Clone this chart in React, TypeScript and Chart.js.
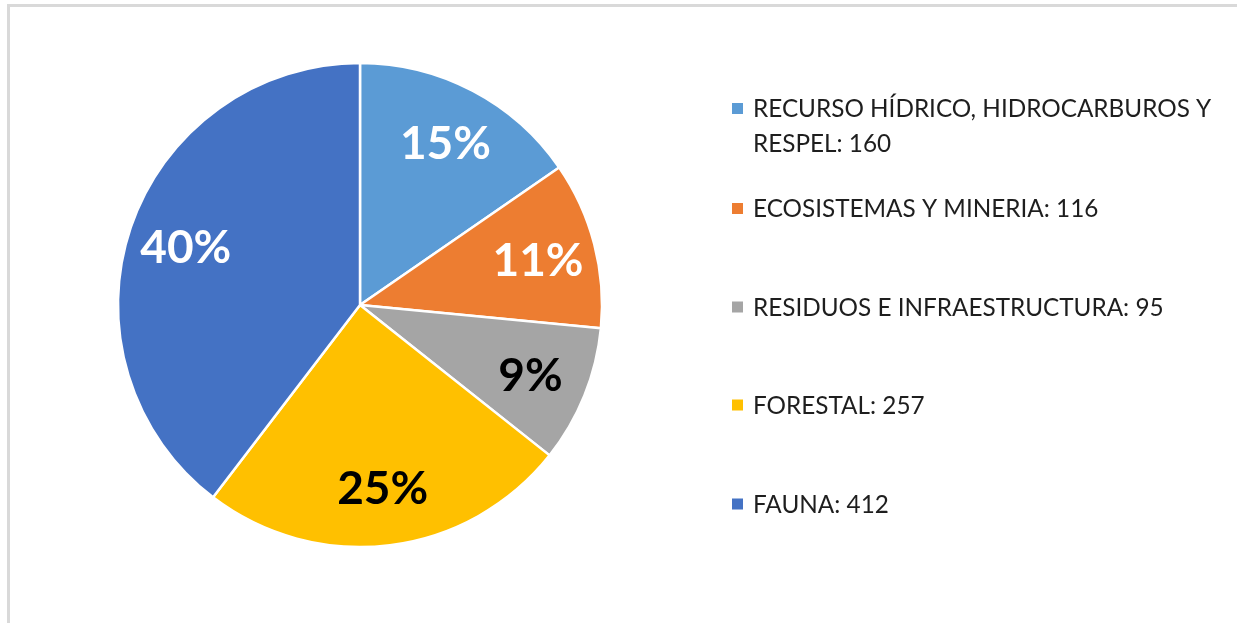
import React, { useEffect, useRef } from "react";
import { Chart, registerables } from "chart.js";

Chart.register(...registerables);

const categories = [
  "RECURSO HÍDRICO, HIDROCARBUROS Y RESPEL",
  "ECOSISTEMAS Y MINERIA",
  "RESIDUOS E INFRAESTRUCTURA",
  "FORESTAL",
  "FAUNA",
];
const values = [160, 116, 95, 257, 412];
const sliceColors = ["#5B9BD5", "#ED7D31", "#A5A5A5", "#FFC000", "#4472C4"];
const pctLabelColors = ["#FFFFFF", "#FFFFFF", "#000000", "#000000", "#FFFFFF"];

const FONT = "Lato, 'Open Sans', sans-serif";
const LEGEND_X = 732;
const LEGEND_MARK = 11;
const LEGEND_TEXT_X = 753;
const LEGEND_CENTERS = [108.5, 208.5, 307, 405, 504];
const LEGEND_LINE_H = 35;
const LEGEND_FONT_SIZE = 24.3;
const LEGEND_MAX_W = 480;

const wrap = (ctx: CanvasRenderingContext2D, text: string, maxW: number) => {
  const words = text.split(" ");
  const lines: string[] = [];
  let cur = "";
  for (const w of words) {
    const t = cur ? cur + " " + w : w;
    if (ctx.measureText(t).width > maxW && cur) {
      lines.push(cur);
      cur = w;
    } else cur = t;
  }
  if (cur) lines.push(cur);
  return lines;
};

const customPlugin = {
  id: "customLabels",
  afterDatasetsDraw(chart: any) {
    const ctx: CanvasRenderingContext2D = chart.ctx;
    const meta = chart.getDatasetMeta(0);
    const data = chart.data.datasets[0].data as number[];
    const total = data.reduce((a, b) => a + b, 0);
    ctx.save();
    ctx.font = `bold 46px ${FONT}`;
    ctx.textAlign = "center";
    ctx.textBaseline = "middle";
    meta.data.forEach((arc: any, i: number) => {
      const { x, y, startAngle, endAngle, outerRadius } = arc.getProps(
        ["x", "y", "startAngle", "endAngle", "outerRadius"],
        true
      );
      const mid = (startAngle + endAngle) / 2;
      const r = outerRadius * 0.76;
      const pct = Math.round((data[i] / total) * 100);
      ctx.fillStyle = pctLabelColors[i];
      ctx.fillText(`${pct}%`, x + Math.cos(mid) * r, y + Math.sin(mid) * r + 2);
    });
    ctx.restore();

    // legend
    ctx.save();
    ctx.font = `${LEGEND_FONT_SIZE}px ${FONT}`;
    ctx.textAlign = "left";
    ctx.textBaseline = "alphabetic";
    const capH = LEGEND_FONT_SIZE * 0.72;
    categories.forEach((cat, i) => {
      const cy = LEGEND_CENTERS[i];
      ctx.fillStyle = sliceColors[i];
      ctx.fillRect(LEGEND_X, cy - LEGEND_MARK / 2, LEGEND_MARK, LEGEND_MARK);
      ctx.fillStyle = "#1e1e1e";
      const lines = wrap(ctx, `${cat}: ${values[i]}`, LEGEND_MAX_W);
      lines.forEach((ln, j) => {
        ctx.fillText(ln, LEGEND_TEXT_X, cy + capH / 2 + j * LEGEND_LINE_H);
      });
    });
    ctx.restore();
  },
};

export default function App() {
  const ref = useRef<HTMLCanvasElement | null>(null);
  useEffect(() => {
    if (!ref.current) return;
    const chart = new Chart(ref.current, {
      type: "pie",
      data: {
        labels: categories,
        datasets: [
          {
            data: values,
            backgroundColor: sliceColors,
            borderColor: "#FFFFFF",
            borderWidth: 2.5,
          },
        ],
      },
      options: {
        responsive: false,
        animation: false,
        radius: 242,
        layout: { padding: { left: 100, right: 618, top: 50, bottom: 63 } },
        plugins: {
          legend: { display: false },
          tooltip: { enabled: false },
          title: { display: false },
        },
      } as any,
      plugins: [customPlugin],
    });
    return () => chart.destroy();
  }, []);

  return (
    <div
      style={{
        position: "fixed",
        left: 0,
        top: 0,
        width: 1238,
        height: 623,
        background: "#ffffff",
      }}
    >
      <div
        style={{
          position: "absolute",
          left: 7,
          top: 4,
          width: 1230,
          height: 619,
          borderTop: "3px solid #d9d9d9",
          borderLeft: "3px solid #d9d9d9",
          boxSizing: "border-box",
        }}
      />
      <canvas
        ref={ref}
        width={1238}
        height={623}
        style={{ position: "absolute", left: 0, top: 0, width: 1238, height: 623 }}
      />
    </div>
  );
}
